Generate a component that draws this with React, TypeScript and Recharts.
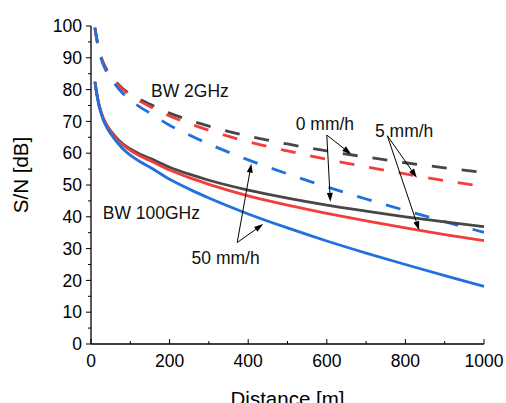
import { LineChart, Line, XAxis, YAxis, ReferenceLine, ReferenceDot } from 'recharts'

// distance [m] and S/N [dB]
const distance = [10, 15, 20, 30, 40, 50, 60, 80, 100, 125, 150, 200, 250, 300, 400, 500, 600, 700, 800, 900, 1000]

// BW 100GHz (solid)
const sn100Clear = [82.5, 78.6, 75.5, 71.4, 68.9, 67.0, 65.5, 63.0, 61.3, 59.7, 58.4, 55.6, 53.4, 51.5, 48.4, 45.9, 43.7, 41.8, 40.0, 38.4, 36.9]
const sn100Rain5 = [82.5, 78.5, 75.4, 71.3, 68.7, 66.8, 65.2, 62.7, 60.9, 59.1, 57.7, 54.7, 52.3, 50.2, 46.6, 43.7, 41.1, 38.7, 36.5, 34.4, 32.5]
const sn100Rain50 = [82.3, 78.3, 75.1, 70.8, 68.1, 66.1, 64.4, 61.5, 59.4, 57.3, 55.6, 51.8, 48.7, 45.9, 40.9, 36.5, 32.4, 28.6, 25.0, 21.5, 18.1]

// BW 2GHz (dashed)
const sn2Clear = [99.5, 95.8, 92.8, 88.8, 86.3, 84.4, 82.9, 80.4, 78.6, 76.9, 75.4, 72.6, 70.4, 68.5, 65.4, 62.9, 60.7, 58.8, 57.0, 55.4, 53.9]
const sn2Rain5 = [99.5, 95.7, 92.7, 88.7, 86.1, 84.2, 82.6, 80.1, 78.2, 76.3, 74.7, 71.7, 69.3, 67.2, 63.6, 60.7, 58.1, 55.7, 53.5, 51.4, 49.5]
const sn2Rain50 = [99.3, 95.5, 92.4, 88.2, 85.5, 83.5, 81.8, 78.9, 76.7, 74.5, 72.6, 68.8, 65.7, 62.9, 57.9, 53.5, 49.4, 45.6, 42.0, 38.5, 35.1]

const xTicks = [0, 100, 200, 300, 400, 500, 600, 700, 800, 900, 1000]
const yTicks = [0, 5, 10, 15, 20, 25, 30, 35, 40, 45, 50, 55, 60, 65, 70, 75, 80, 85, 90, 95, 100]

const data = distance.map((d, i) => ({
  d,
  c100: sn100Clear[i],
  r5_100: sn100Rain5[i],
  r50_100: sn100Rain50[i],
  c2: sn2Clear[i],
  r5_2: sn2Rain5[i],
  r50_2: sn2Rain50[i],
}))

// annotation text (left / baseline) in data coords
const notes = [
  { text: 'BW 2GHz', x: 152.7, y: 77.7 },
  { text: 'BW 100GHz', x: 29.8, y: 39.3 },
  { text: '0 mm/h', x: 520.9, y: 67.3 },
  { text: '5 mm/h', x: 722.6, y: 65.1 },
  { text: '50 mm/h', x: 256, y: 25.2 },
]

// arrows: [from, to]
const arrows = [
  [{ x: 600, y: 65.7 }, { x: 662, y: 59.7 }],
  [{ x: 600, y: 65.7 }, { x: 609, y: 44.7 }],
  [{ x: 754, y: 65.5 }, { x: 829, y: 52.3 }],
  [{ x: 754, y: 65.5 }, { x: 835, y: 35.8 }],
  [{ x: 372, y: 31.9 }, { x: 408, y: 56.7 }],
  [{ x: 372, y: 31.9 }, { x: 438, y: 37.7 }],
]

const FONT = '"Liberation Sans", Arial, sans-serif'
const GRAY = '#474747'
const RED = '#f23d3d'
const BLUE = '#2170de'

const XTick = (props: any) => {
  const { x, y, payload } = props
  const major = payload.value % 200 === 0
  return (
    <g>
      <line x1={x} y1={y} x2={x} y2={y - (major ? 5 : 3)} stroke="#000" strokeWidth={1} />
      {major && (
        <text x={x} y={y + 23} textAnchor="middle" fontSize={17.5} fill="#000" fontFamily={FONT}>
          {payload.value}
        </text>
      )}
    </g>
  )
}

const YTick = (props: any) => {
  const { x, y, payload } = props
  const major = payload.value % 10 === 0
  return (
    <g>
      <line x1={x - (major ? 5 : 3)} y1={y} x2={x} y2={y} stroke="#000" strokeWidth={1} />
      {major && (
        <text x={x - 9} y={y + 6.2} textAnchor="end" fontSize={17.5} fill="#000" fontFamily={FONT}>
          {payload.value}
        </text>
      )}
    </g>
  )
}

const Arrow = (p: any) => {
  const { x1, y1, x2, y2 } = p
  const a = Math.atan2(y2 - y1, x2 - x1)
  const len = 9
  const w = 3
  const bx = x2 - len * Math.cos(a)
  const by = y2 - len * Math.sin(a)
  const pts = `${x2},${y2} ${bx - w * Math.sin(a)},${by + w * Math.cos(a)} ${bx + w * Math.sin(a)},${by - w * Math.cos(a)}`
  return (
    <g>
      <line x1={x1} y1={y1} x2={bx} y2={by} stroke="#000" strokeWidth={1} />
      <polygon points={pts} fill="#000" />
    </g>
  )
}

export default function App() {
  return (
    <div style={{ position: 'absolute', left: 0, top: 0, background: '#fff' }}>
      <LineChart
        width={506}
        height={403}
        data={data}
        margin={{ top: 26, right: 22, left: 0, bottom: 0 }}
        style={{ fontFamily: FONT }}
      >
        <XAxis
          dataKey="d"
          type="number"
          domain={[0, 1000]}
          ticks={xTicks}
          interval={0}
          height={59}
          tickSize={0}
          tickMargin={0}
          tickLine={false}
          tick={XTick}
          axisLine={{ stroke: '#000', strokeWidth: 1.3 }}
          label={{ value: 'Distance [m]', position: 'insideBottom', offset: -3, fontSize: 20.5, fill: '#000' }}
        />
        <YAxis
          type="number"
          domain={[0, 100]}
          ticks={yTicks}
          interval={0}
          width={91}
          tickSize={0}
          tickMargin={0}
          tickLine={false}
          tick={YTick}
          axisLine={{ stroke: '#000', strokeWidth: 1.3 }}
          label={{
            content: () => (
              <text transform="translate(27.5,175) rotate(-90)" textAnchor="middle" fontSize={20.5} fill="#000" fontFamily={FONT}>
                S/N [dB]
              </text>
            ),
          }}
        />
        <Line dataKey="c2" type="monotone" stroke={GRAY} strokeWidth={2.8} strokeDasharray="15 15" dot={false} isAnimationActive={false} />
        <Line dataKey="r5_2" type="monotone" stroke={RED} strokeWidth={2.8} strokeDasharray="15 15" dot={false} isAnimationActive={false} />
        <Line dataKey="r50_2" type="monotone" stroke={BLUE} strokeWidth={2.8} strokeDasharray="15 15" dot={false} isAnimationActive={false} />
        <Line dataKey="c100" type="monotone" stroke={GRAY} strokeWidth={2.8} dot={false} isAnimationActive={false} />
        <Line dataKey="r5_100" type="monotone" stroke={RED} strokeWidth={2.8} dot={false} isAnimationActive={false} />
        <Line dataKey="r50_100" type="monotone" stroke={BLUE} strokeWidth={2.8} dot={false} isAnimationActive={false} />
        {arrows.map((seg, i) => (
          <ReferenceLine key={`a${i}`} segment={seg} shape={Arrow} />
        ))}
        {notes.map((n) => (
          <ReferenceDot
            key={n.text}
            x={n.x}
            y={n.y}
            r={0}
            shape={(p: any) => (
              <text x={p.cx} y={p.cy} fontSize={17.5} fill="#111" fontFamily={FONT}>
                {n.text}
              </text>
            )}
          />
        ))}
      </LineChart>
    </div>
  )
}
